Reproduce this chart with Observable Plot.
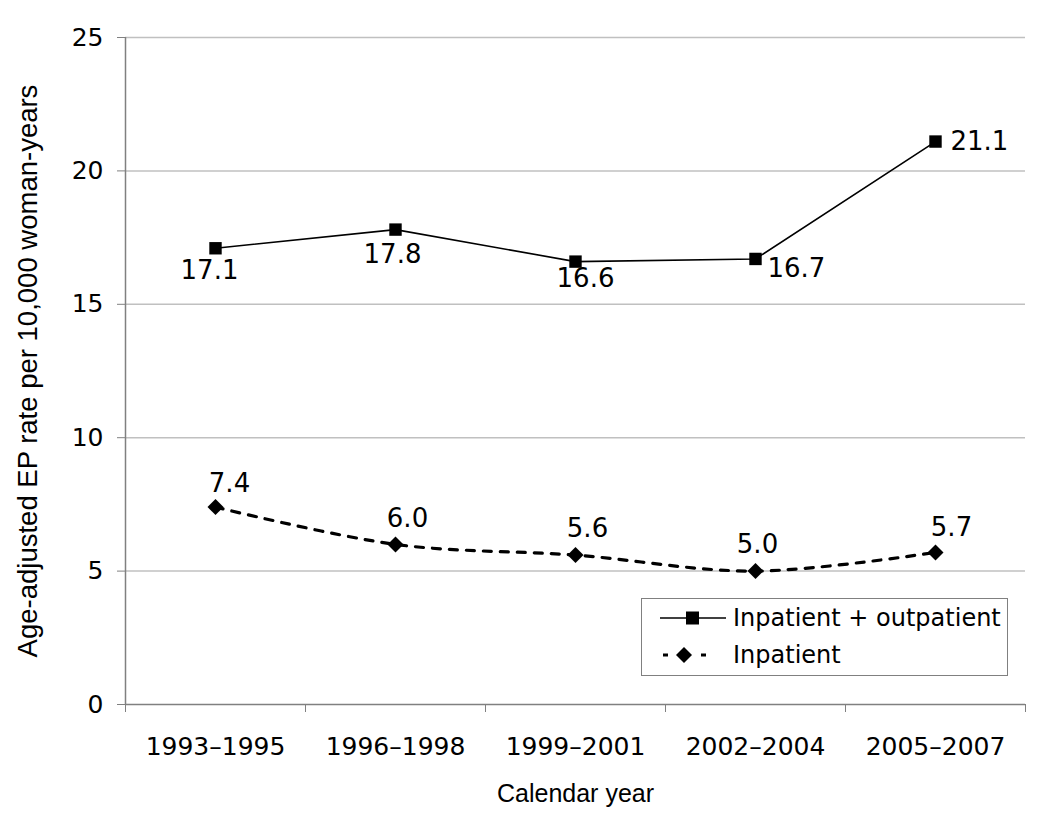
<!DOCTYPE html>
<html>
<head>
<meta charset="utf-8">
<script src="https://cdn.jsdelivr.net/npm/d3@7"></script>
<script src="https://cdn.jsdelivr.net/npm/@observablehq/plot@0.6"></script>
<style>
  html, body { margin: 0; padding: 0; background: #fff; }
  #wrap { position: relative; width: 1050px; height: 832px; font-family: "Liberation Sans", Arial, sans-serif; }
  #legend { position: absolute; left: 641px; top: 598px; width: 365px; height: 76px; border: 1.5px solid #808080; background: #fff; }
  .row { position: absolute; left: 0; width: 100%; height: 36px; }
  .row svg { position: absolute; left: 18px; top: 8px; }
  .row span { position: absolute; left: 91px; top: 3px; font-family: "DejaVu Sans", sans-serif; font-size: 24px; line-height: 30px; white-space: nowrap; color: #000; }
</style>
</head>
<body>
<div id="wrap"></div>
<script>
const categories = ["1993–1995", "1996–1998", "1999–2001", "2002–2004", "2005–2007"];
const totalRates = [17.1, 17.8, 16.6, 16.7, 21.1];
const inpatientRates = [7.4, 6.0, 5.6, 5.0, 5.7];
const yTicks = [0, 5, 10, 15, 20, 25];
const seriesNames = ["Inpatient + outpatient", "Inpatient"];
const yTitle = "Age-adjusted EP rate per 10,000 woman-years";
const xTitle = "Calendar year";

const totalData = categories.map((c, i) => ({i, cat: c, value: totalRates[i]}));
const inData = categories.map((c, i) => ({i, cat: c, value: inpatientRates[i]}));
const xPos = d => d.i + 0.5;

const numFont = "'DejaVu Sans', sans-serif";
const textFont = "'Liberation Sans', Arial, sans-serif";

// label placement (pixel offsets relative to each point)
const totalLabelOffsets = [[-6, 22, "middle"], [-3, 25, "middle"], [10, 17, "middle"], [12, 10, "start"], [15, 0, "start"]];
const inLabelOffsets = [[14, -23, "middle"], [12, -26, "middle"], [12, -26, "middle"], [2, -26, "middle"], [16, -25, "middle"]];

const labelMarks = (data, offsets) => data.map((d, k) => Plot.text([d], {
  x: xPos, y: "value", text: dd => dd.value.toFixed(1),
  dx: offsets[k][0], dy: offsets[k][1], textAnchor: offsets[k][2],
  fontSize: 26, fontFamily: numFont, fill: "black"
}));

const chart = Plot.plot({
  width: 1050,
  height: 832,
  marginLeft: 125,
  marginRight: 25,
  marginTop: 37,
  marginBottom: 128,
  style: {fontFamily: textFont, background: "white", color: "black"},
  x: {domain: [0, categories.length], axis: null},
  y: {domain: [0, 25], axis: null},
  marks: [
    Plot.ruleY(yTicks.filter(v => v > 0), {stroke: "#c0c0c0", strokeWidth: 1.5}),
    Plot.axisY({ticks: yTicks, tickSize: 8, tickPadding: 14, stroke: "#808080", fill: "black", fontSize: 25, fontFamily: numFont, label: null, tickFormat: d => String(d)}),
    Plot.axisX({ticks: d3.range(categories.length + 1), tickSize: 8, stroke: "#808080", tickFormat: () => "", label: null}),
    Plot.axisX({ticks: categories.map((c, i) => i + 0.5), tickSize: 0, tickPadding: 33, fill: "black", fontSize: 25, fontFamily: numFont, tickFormat: d => categories[Math.floor(d)], label: null}),
    Plot.ruleX([0], {stroke: "#808080", strokeWidth: 1.5}),
    Plot.ruleY([0], {stroke: "#808080", strokeWidth: 1.5}),
    Plot.text([yTitle], {frameAnchor: "left", textAnchor: "middle", dx: -97, rotate: -90, fontSize: 27.5, fontFamily: textFont, fill: "black"}),
    Plot.text([xTitle], {frameAnchor: "bottom", dy: 97, fontSize: 25, fontFamily: textFont, fill: "black"}),
    Plot.line(totalData, {x: xPos, y: "value", stroke: "black", strokeWidth: 1.6}),
    Plot.line(inData, {x: xPos, y: "value", stroke: "black", strokeWidth: 3.2, strokeDasharray: "8,9", curve: "catmull-rom"}),
    Plot.dot(totalData, {x: xPos, y: "value", symbol: "square", r: 7, fill: "black"}),
    Plot.dot(inData, {x: xPos, y: "value", symbol: "diamond2", r: 7.2, fill: "black"}),
    ...labelMarks(totalData, totalLabelOffsets),
    ...labelMarks(inData, inLabelOffsets)
  ]
});

const wrap = document.getElementById("wrap");
wrap.appendChild(chart);

const legend = document.createElement("div");
legend.id = "legend";
legend.innerHTML = `
  <div class="row" style="top:1px">
    <svg width="66" height="20" viewBox="0 0 66 20">
      <line x1="0" y1="10" x2="66" y2="10" stroke="black" stroke-width="1.6"/>
      <rect x="26" y="3.5" width="13" height="13" fill="black"/>
    </svg>
    <span>${seriesNames[0]}</span>
  </div>
  <div class="row" style="top:38px">
    <svg width="66" height="20" viewBox="0 0 66 20">
      <line x1="3" y1="10" x2="8" y2="10" stroke="black" stroke-width="3"/>
      <path d="M24,2 L32,10 L24,18 L16,10 Z" fill="black"/>
      <line x1="41" y1="10" x2="46" y2="10" stroke="black" stroke-width="3"/>
    </svg>
    <span>${seriesNames[1]}</span>
  </div>`;
wrap.appendChild(legend);
</script>
</body>
</html>
